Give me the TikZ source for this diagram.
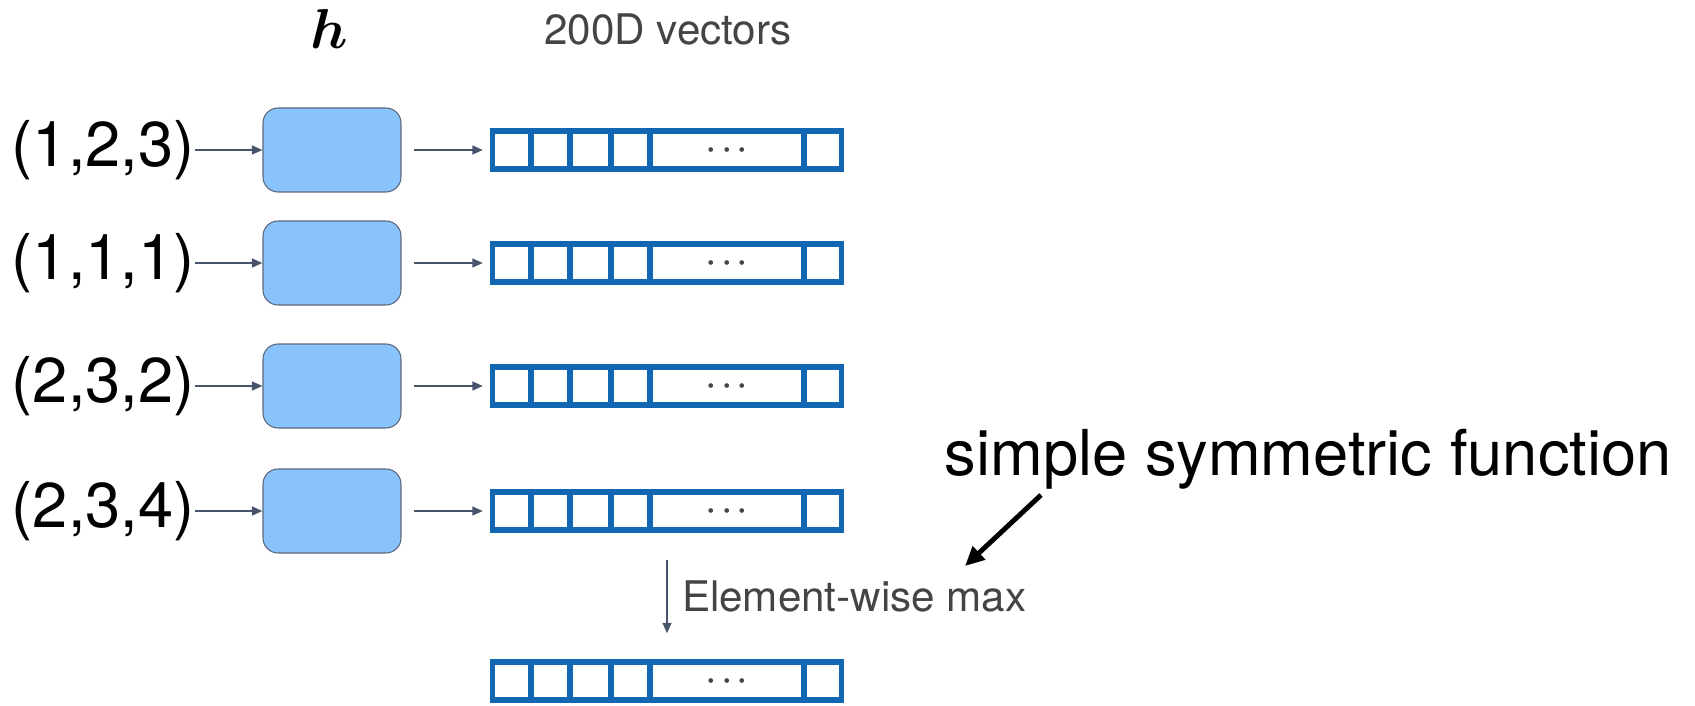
\documentclass[tikz,border=0pt]{standalone}
\usepackage{bm}
\usepackage{fontspec}
\setmainfont{TeX Gyre Heros}
\usetikzlibrary{arrows.meta}
\definecolor{vecblue}{RGB}{17,103,177}
\definecolor{boxfill}{RGB}{137,195,252}
\definecolor{boxline}{RGB}{90,102,124}
\definecolor{flowgray}{RGB}{72,84,108}
\definecolor{textgray}{RGB}{68,68,68}
\tikzset{
  hbox/.style={draw=boxline, fill=boxfill, rounded corners=0.3cm, minimum width=2.76cm, minimum height=1.68cm, line width=0.6pt},
  vec/.style={draw=vecblue, line width=3pt, minimum width=6.98cm, minimum height=0.76cm, inner sep=0pt},
  cell/.style={draw=vecblue, line width=3pt},
  flow/.style={draw=flowgray, line width=1.1pt, -{Triangle[length=6pt,width=5pt]}},
  pointer/.style={line width=2.8pt, -{Triangle[length=11pt,width=10pt]}},
  tuple/.style={font=\fontsize{36}{40}\selectfont, inner sep=0pt, anchor=east},
  note/.style={font=\fontsize{24}{28}\selectfont, text=textgray, inner sep=2pt},
}
\begin{document}
\begin{tikzpicture}[x=0.02cm, y=-0.02cm]
  \useasboundingbox (0,0) rectangle (1695,706);
  \node[scale=3.2, inner sep=0pt] (h) at (329,29) {$\bm{h}$};
  \node[note] (dim) at (668,29) {200D vectors};
  \foreach \r/\y in {1/150,2/263,3/386,4/511,5/681} {
    \node[vec] (v\r) at (667,\y) {};
    \foreach \x in {531,570,611,650,804}
      \draw[cell] (\x,\y-19) -- (\x,\y+19);
    \node[text=textgray, scale=1.7] (d\r) at (727,\y) {$\bm{\cdots}$};
  }
  \foreach \r/\y/\t in {1/150/{(1,2,3)},2/263/{(1,1,1)},3/386/{(2,3,2)},4/511/{(2,3,4)}} {
    \node[tuple] (l\r) at (195,\y) {\t};
    \node[hbox] (b\r) at (332,\y) {};
    \draw[flow] (l\r) -- (b\r);
    \draw[flow, shorten <=0.24cm, shorten >=0.14cm] (b\r) -- (v\r);
  }
  \draw[flow, shorten <=0.54cm, shorten >=0.52cm] (v4) -- (v5)
    node[midway, right=6pt, note] (emax) {Element-wise max};
  \node[font=\fontsize{36}{40}\selectfont, inner sep=0pt] (ssf) at (1308,459) {simple symmetric function};
  \coordinate (tail) at (1041,495);
  \coordinate (tip) at (965,566);
  \draw[pointer] (tail) -- (tip);
\end{tikzpicture}
\end{document}
